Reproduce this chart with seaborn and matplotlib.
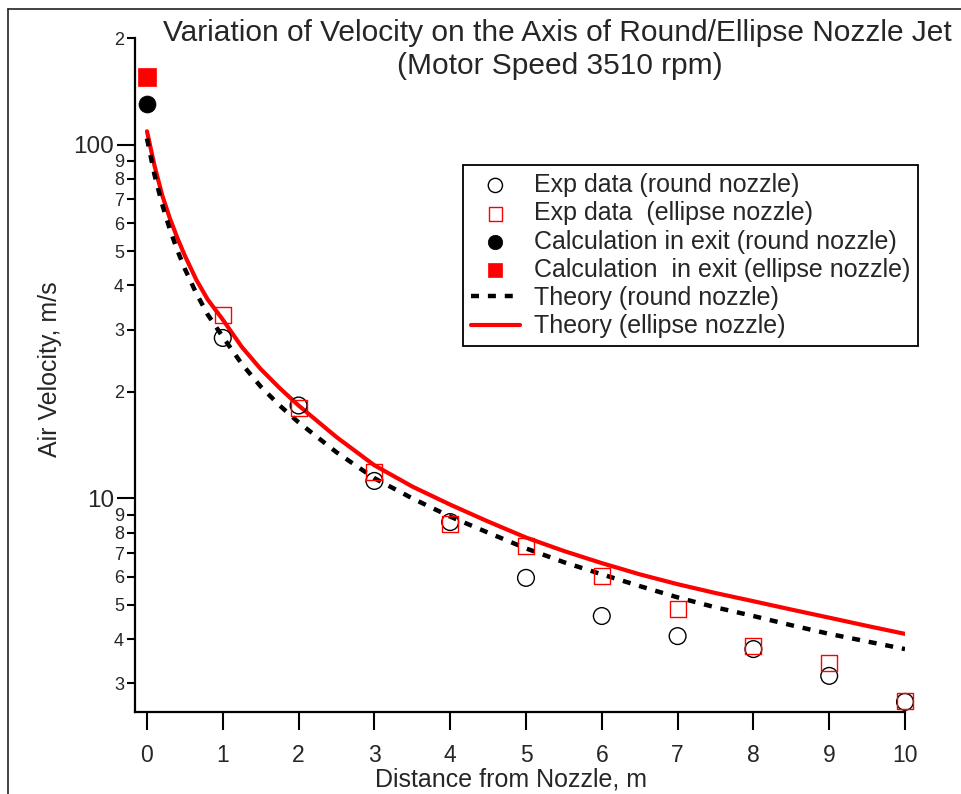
import numpy as np
import pandas as pd
import matplotlib
matplotlib.use("Agg")
import matplotlib.pyplot as plt
from matplotlib.ticker import FixedLocator, FixedFormatter
from matplotlib.lines import Line2D
import seaborn as sns

# ---------------- data ----------------
distance = [1, 2, 3, 4, 5, 6, 7, 8, 9, 10]
round_exp = [28.4, 18.3, 11.2, 8.57, 5.96, 4.65, 4.08, 3.75, 3.15, 2.66]
ellipse_exp = [33.0, 18.0, 11.9, 8.46, 7.33, 6.03, 4.86, 3.83, 3.43, 2.67]

exit_x = [0]
round_exit = [129.8]
ellipse_exit = [155.0]

theory_x = [0, 0.1, 0.2, 0.3, 0.4, 0.5, 0.65, 0.8, 1, 1.25, 1.5, 1.75, 2, 2.5,
            3, 3.5, 4, 4.5, 5, 5.5, 6, 6.5, 7, 7.5, 8, 8.5, 9, 9.5, 10]
theory_round_y = [104, 82, 67.8, 57.7, 50.3, 44.5, 38.0, 33.1, 28.6, 24.0, 20.7,
                  18.3, 16.4, 13.5, 11.4, 10.0, 8.88, 8.0, 7.22, 6.6, 6.1, 5.65,
                  5.25, 4.92, 4.65, 4.38, 4.14, 3.94, 3.75]
theory_ellipse_y = [109, 87, 72, 62, 54.5, 48.5, 41.5, 36.5, 32.0, 26.8, 23.2,
                    20.5, 18.3, 14.9, 12.4, 10.8, 9.6, 8.6, 7.75, 7.1, 6.56, 6.1,
                    5.72, 5.4, 5.12, 4.85, 4.6, 4.36, 4.14]

major_y = [10, 100]
major_y_labels = ["10", "100"]
minor_y = [3, 4, 5, 6, 7, 8, 9, 20, 30, 40, 50, 60, 70, 80, 90, 200]
minor_y_labels = ["3", "4", "5", "6", "7", "8", "9",
                  "2", "3", "4", "5", "6", "7", "8", "9", "2"]
x_ticks = list(range(0, 11))

title_line1 = "Variation of Velocity on the Axis of Round/Ellipse Nozzle Jet"
title_line2 = "(Motor Speed 3510 rpm)"
xlabel = "Distance from Nozzle, m"
ylabel = "Air Velocity, m/s"

labels = ["Exp data (round nozzle)",
          "Exp data  (ellipse nozzle)",
          "Calculation in exit (round nozzle)",
          "Calculation  in exit (ellipse nozzle)",
          "Theory (round nozzle)",
          "Theory (ellipse nozzle)"]

# ---------------- styling ----------------
sns.set_style("ticks")
plt.rcParams["font.family"] = ["Liberation Sans", "DejaVu Sans"]

W, H = 961, 794
fig = plt.figure(figsize=(W / 100, H / 100), dpi=100)
ax_left, ax_right, ax_top, ax_bottom = 135, 905, 38, 712
ax = fig.add_axes([ax_left / W, 1 - ax_bottom / H,
                   (ax_right - ax_left) / W, (ax_bottom - ax_top) / H])

df_exp = pd.DataFrame({"x": distance, "round": round_exp, "ellipse": ellipse_exp})
df_th = pd.DataFrame({"x": theory_x, "round": theory_round_y,
                      "ellipse": theory_ellipse_y})

# theory curves
sns.lineplot(data=df_th, x="x", y="ellipse", ax=ax, color="#ff0000",
             linewidth=3, label=labels[5], zorder=3)
sns.lineplot(data=df_th, x="x", y="round", ax=ax, color="black",
             linewidth=3.2, label=labels[4], zorder=3,
             linestyle=(0, (1.8, 2.0)))

# experimental data
sns.scatterplot(data=df_exp, x="x", y="round", ax=ax, marker="o", s=145,
                facecolors="none", edgecolor="black", linewidth=1.0,
                label=labels[0], zorder=4, clip_on=False)
sns.scatterplot(data=df_exp, x="x", y="ellipse", ax=ax, marker="s", s=135,
                facecolors="none", edgecolor="#ff0000", linewidth=1.0,
                label=labels[1], zorder=4, clip_on=False)

# exit calculations
sns.scatterplot(x=exit_x, y=round_exit, ax=ax, marker="o", s=150,
                color="black", edgecolor="black", linewidth=0.5,
                label=labels[2], zorder=4, clip_on=False)
sns.scatterplot(x=exit_x, y=ellipse_exit, ax=ax, marker="s", s=160,
                color="#ff0000", edgecolor="#ff0000", linewidth=0.5,
                label=labels[3], zorder=4, clip_on=False)

ax.set_yscale("log")
ax.set_xlim(-0.158, 10.0)
ax.set_ylim(2.49, 200)

ax.yaxis.set_major_locator(FixedLocator(major_y))
ax.yaxis.set_major_formatter(FixedFormatter(major_y_labels))
ax.yaxis.set_minor_locator(FixedLocator(minor_y))
ax.yaxis.set_minor_formatter(FixedFormatter(minor_y_labels))
ax.set_xticks(x_ticks)
ax.set_xticklabels([str(t) for t in x_ticks])

ax.tick_params(axis="y", which="major", length=13, width=1.5, labelsize=17.5,
               pad=2, direction="out", color="black")
ax.tick_params(axis="y", which="minor", length=6, width=1.5, labelsize=13,
               pad=2, direction="out", color="black")
ax.tick_params(axis="x", which="major", length=13, width=1.5, labelsize=16.5,
               pad=10, direction="out", color="black")
ax.tick_params(axis="x", which="minor", bottom=False)

sns.despine(ax=ax)
for sp in ["left", "bottom"]:
    ax.spines[sp].set_linewidth(1.6)
    ax.spines[sp].set_color("black")

ax.set_xlabel(xlabel, fontsize=18)
ax.set_ylabel(ylabel, fontsize=18)
ax.xaxis.set_label_coords((511 - ax_left) / (ax_right - ax_left),
                          -(768 - ax_bottom) / (ax_bottom - ax_top))
ax.yaxis.set_label_coords(-(ax_left - 62) / (ax_right - ax_left),
                          (ax_bottom - 369) / (ax_bottom - ax_top))

# legend in reference order
handles, labs = ax.get_legend_handles_labels()
hmap = dict(zip(labs, handles))
leg = ax.legend([hmap[l] for l in labels], labels,
                loc="upper left", bbox_to_anchor=(463 / W, 1 - 165 / H),
                bbox_transform=fig.transFigure, fontsize=18,
                frameon=True, fancybox=False, framealpha=1, edgecolor="black",
                borderpad=0.32, labelspacing=0.17, handlelength=1.95,
                handletextpad=0.55, borderaxespad=0, markerscale=0.85)
leg.get_frame().set_linewidth(1.3)

# titles
fig.text(557 / W, 1 - 33 / H, title_line1, ha="center", va="center", fontsize=21.5)
fig.text(560 / W, 1 - 66 / H, title_line2, ha="center", va="center", fontsize=21.5)

# outer border (top + left visible)
bx, by = 8 / W, 1 - 9 / H
fig.add_artist(Line2D([bx, bx], [0, by], transform=fig.transFigure,
                      color="#222222", linewidth=1.2))
fig.add_artist(Line2D([bx, 1], [by, by], transform=fig.transFigure,
                      color="#222222", linewidth=1.2))

fig.savefig("out.png", dpi=100, facecolor="white")
